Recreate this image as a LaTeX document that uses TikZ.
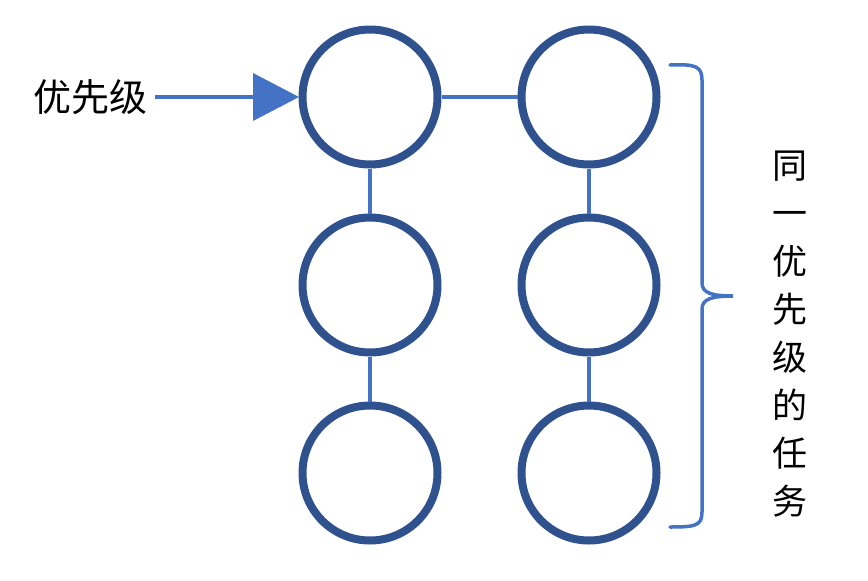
\documentclass[tikz,border=0pt]{standalone}
\usepackage{fontspec}
\newfontfamily\cjk{Noto Sans CJK SC}
\definecolor{ring}{HTML}{2F528F}
\definecolor{link}{HTML}{4472C4}
\begin{document}
\begin{tikzpicture}[x=1pt,y=-1pt,
  task/.style={circle,draw=ring,line width=8pt,minimum size=135pt,inner sep=0pt},
  conn/.style={draw=link,line width=4pt},
  lbl/.style={font=\cjk\fontsize{38}{38}\selectfont,inner sep=0pt}]
\useasboundingbox (0,0) rectangle (868,581);
\node[task] (a1) at (370,97) {};
\node[task] (b1) at (589,97) {};
\node[task] (a2) at (370,285) {};
\node[task] (b2) at (589,285) {};
\node[task] (a3) at (370,473) {};
\node[task] (b3) at (589,473) {};
\draw[conn] (a1) -- (b1);
\draw[conn] (a1) -- (a2);
\draw[conn] (a2) -- (a3);
\draw[conn] (b1) -- (b2);
\draw[conn] (b2) -- (b3);
\node[lbl] (src) at (91,97) {优先级};
\coordinate (tail) at (155,97);
\coordinate (tipl) at (254,97);
\draw[conn] (tail) -- (tipl);
\fill[link] (253,73) -- (299,97) -- (253,121) -- cycle;
\coordinate (bt) at (670,65);
\coordinate (bm) at (733,296);
\coordinate (bb) at (670,527);
\draw[link,line width=3.5pt,line cap=round]
  (bt) .. controls (695,64) and (702,66) .. (702,80)
  -- (702,283) .. controls (702,293) and (712,296) .. (bm)
  .. controls (712,296) and (702,299) .. (702,309)
  -- (702,512) .. controls (702,526) and (695,527) .. (bb);
\node[lbl,align=center,font=\cjk\fontsize{35}{48}\selectfont] (grp) at (790,334)
  {同\\一\\优\\先\\级\\的\\任\\务};
\end{tikzpicture}
\end{document}
